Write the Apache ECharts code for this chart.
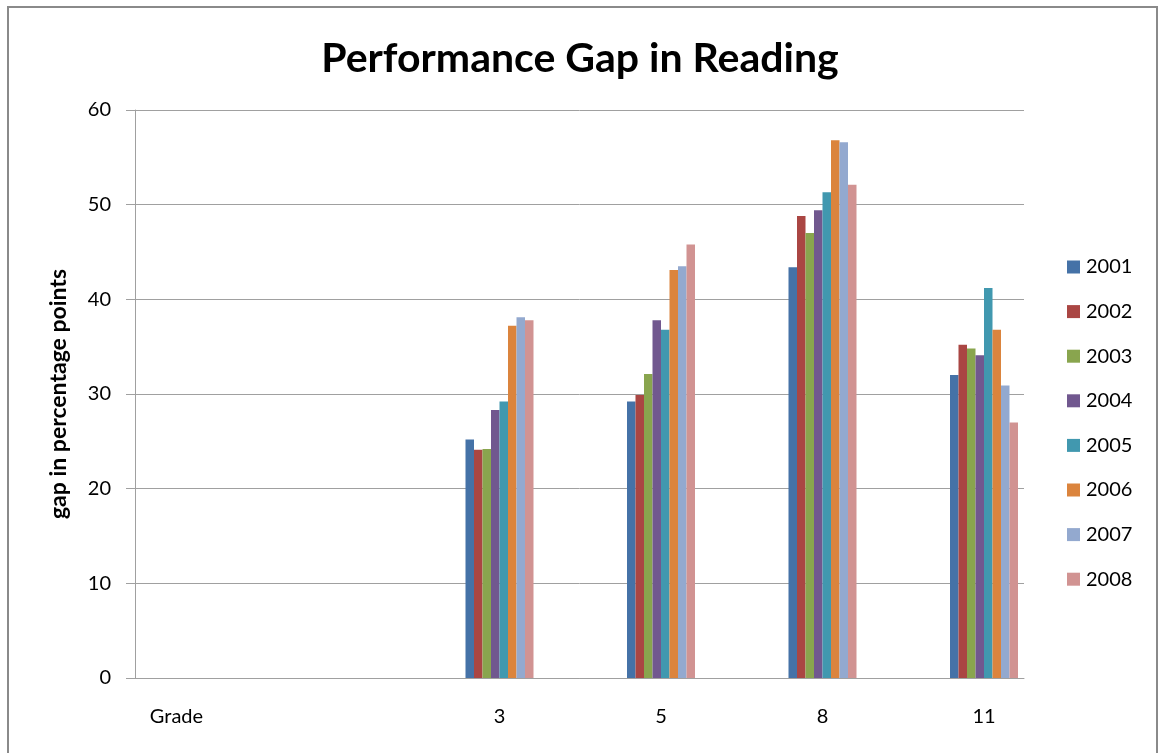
<!DOCTYPE html>
<html>
<head>
<meta charset="utf-8">
<script src="https://cdn.jsdelivr.net/npm/echarts@6/dist/echarts.min.js"></script>
<style>
  html, body { margin: 0; padding: 0; background: #fff; }
  #main { width: 1160px; height: 753px; }
</style>
</head>
<body>
<div id="main"></div>
<script>
// grades shown on the x axis ("Grade" is just a label slot, no bars)
var grades = ['Grade', '', '3', '5', '8', '11'];
var years = ['2001', '2002', '2003', '2004', '2005', '2006', '2007', '2008'];
var yTicks = [0, 10, 20, 30, 40, 50, 60];

// gap values per year, for grades 3, 5, 8, 11
var gap2001 = [25.2, 29.2, 43.4, 32.0];
var gap2002 = [24.1, 29.9, 48.8, 35.2];
var gap2003 = [24.2, 32.1, 47.0, 34.8];
var gap2004 = [28.3, 37.8, 49.4, 34.1];
var gap2005 = [29.2, 36.8, 51.3, 41.2];
var gap2006 = [37.2, 43.1, 56.8, 36.8];
var gap2007 = [38.1, 43.5, 56.6, 30.9];
var gap2008 = [37.8, 45.8, 52.1, 27.0];

var colors = ['#4572A7', '#AA4643', '#89A54E', '#71588F', '#4198AF', '#DB843D', '#93A9CF', '#D19392'];
var allGaps = [gap2001, gap2002, gap2003, gap2004, gap2005, gap2006, gap2007, gap2008];
var font = 'Lato, "Noto Sans", sans-serif';

var series = [];
for (var i = 0; i < years.length; i++) {
    // first two slots (Grade + blank) have no bars
    var d = [null, null].concat(allGaps[i]);
    series.push({
        name: years[i],
        type: 'bar',
        xAxisIndex: 1,
        yAxisIndex: 1,
        barWidth: 8.5,
        barGap: '0%',
        data: d,
        itemStyle: { color: colors[i] }
    });
}

var chart = echarts.init(document.getElementById('main'));
var option = {
    backgroundColor: '#fff',
    animation: false,
    color: colors,
    title: {
        text: 'Performance Gap in Reading',
        left: 'center',
        top: 33,
        textStyle: { fontFamily: font, fontSize: 41, fontWeight: 'bold', color: '#000' }
    },
    graphic: [{
        type: 'rect',
        shape: { x: 8, y: 7, width: 1149, height: 770 },
        style: { fill: null, stroke: '#8a8a8a', lineWidth: 2 },
        silent: true
    }],
    legend: {
        orient: 'vertical',
        left: 1062,
        top: 252,
        itemWidth: 13,
        itemHeight: 13,
        itemGap: 24.6,
        icon: 'rect',
        textStyle: { fontFamily: font, fontSize: 20, color: '#000', padding: [0, 0, 0, 1] },
        data: years
    },
    grid: [
        { left: 135, right: 136, top: 110, bottom: 75 },
        { left: 95.75, right: 95.25, top: 110, bottom: 75 }
    ],
    xAxis: [{
        type: 'value',
        gridIndex: 0,
        min: 0,
        max: 1,
        axisLine: { show: true, lineStyle: { color: '#a0a0a0', width: 1 } },
        axisTick: { show: false },
        axisLabel: { show: false },
        splitLine: { show: false }
    }, {
        type: 'category',
        gridIndex: 1,
        data: grades,
        axisLine: { show: false },
        axisTick: { show: false },
        axisLabel: { fontFamily: font, fontSize: 20, color: '#000', margin: 29, interval: 0 }
    }],
    yAxis: [{
        type: 'value',
        gridIndex: 0,
        min: 0,
        max: 60,
        interval: 10,
        name: 'gap in percentage points',
        nameLocation: 'middle',
        nameGap: 65,
        nameTextStyle: { fontFamily: font, fontSize: 23, fontWeight: 'bold', color: '#000' },
        axisLine: { show: true, lineStyle: { color: '#a0a0a0', width: 1 } },
        axisTick: { show: true, length: 9, lineStyle: { color: '#a0a0a0' } },
        axisLabel: {
            fontFamily: font, fontSize: 20, color: '#000', margin: 24,
            formatter: function (v) { return yTicks.indexOf(v) >= 0 ? String(v) : ''; }
        },
        splitLine: { show: true, lineStyle: { color: '#a0a0a0', width: 1 } }
    }, {
        type: 'value',
        gridIndex: 1,
        min: 0,
        max: 60,
        interval: 10,
        show: false,
        splitLine: { show: false }
    }],
    series: series
};
chart.setOption(option);
</script>
</body>
</html>
